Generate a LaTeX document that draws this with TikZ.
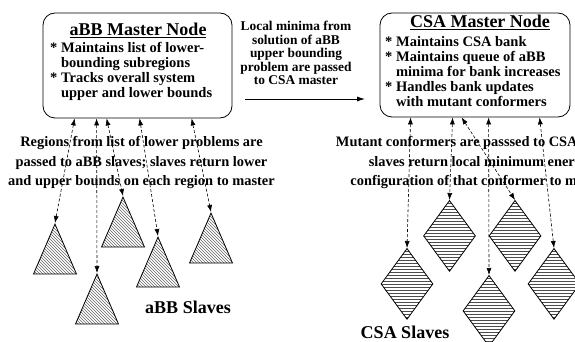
\documentclass[tikz,border=0pt]{standalone}
\usepackage{fontspec}
\setmainfont{Liberation Serif}
\usetikzlibrary{shapes.geometric, arrows.meta, positioning, patterns}

\begin{document}
\begin{tikzpicture}[
    x=1pt, y=-1pt,
    masterbox/.style={draw, thick, rounded corners=12pt, inner sep=0pt},
    boxtitle/.style={font=\fontsize{18}{18}\selectfont\bfseries, inner sep=0pt},
    boxtext/.style={font=\fontsize{14.5}{15}\selectfont\bfseries, align=left, inner sep=0pt, anchor=north west},
    note/.style={font=\fontsize{14.4}{19.5}\selectfont\bfseries, align=center, inner sep=0pt},
    abbslave/.style={isosceles triangle, isosceles triangle stretches, shape border rotate=90, minimum width=43pt, minimum height=50pt, inner sep=0pt, draw, thick, pattern=north west lines, pattern color=black!60, anchor=apex},
    csaslave/.style={diamond, minimum width=52pt, minimum height=71pt, inner sep=0pt, draw, thick, pattern=horizontal lines, pattern color=black!70, anchor=north},
    link/.style={{Latex[length=7pt,width=5pt]}-{Latex[length=7pt,width=5pt]}, dash pattern=on 3pt off 2pt, semithick},
    pass/.style={-{Latex[length=8pt,width=5pt]}, thick}
  ]

  \path[use as bounding box, clip] (0,0) rectangle (575,342);

  % Master nodes
  \node[masterbox, minimum width=189pt, minimum height=105pt] (abb) at (137.5,65.5) {};
  \node[boxtitle] (abbtitle) at (138,30) {\underline{aBB Master Node}};
  \node[boxtext] (abbtext) at (50,42) {* Maintains list of lower-\\\phantom{* }bounding subregions\\* Tracks overall system\\\phantom{* }upper and lower bounds};

  \node[masterbox, minimum width=190pt, minimum height=104pt] (csa) at (475,65) {};
  \node[boxtitle] (csatitle) at (480,22) {\underline{CSA Master Node}};
  \node[boxtext] (csatext) at (385,36) {* Maintains CSA bank\\* Maintains queue of aBB\\\phantom{* }minima for bank increases\\* Handles bank updates\\\phantom{* }with mutant conformers};

  % Master to master
  \node[font=\fontsize{13.4}{13.4}\selectfont\bfseries, align=center, inner sep=0pt] (minima) at (296,53) {Local minima from\\solution of aBB\\upper bounding\\problem are passed\\to CSA master};
  \coordinate (passfrom) at (245,99);
  \coordinate (passto) at (365,99);
  \draw[pass] (passfrom) -- (passto);

  % Slaves
  \node[abbslave] (t1) at (55,223) {};
  \node[abbslave] (t2) at (97,273) {};
  \node[abbslave] (t3) at (123,196) {};
  \node[abbslave] (t4) at (158,236) {};
  \node[abbslave] (t5) at (211,212) {};
  \node[boxtitle] (abbslaves) at (188,307) {aBB Slaves};

  \node[csaslave] (d1) at (407,248) {};
  \node[csaslave] (d2) at (449.5,200) {};
  \node[csaslave] (d3) at (515,200) {};
  \node[csaslave] (d4) at (489,275) {};
  \node[csaslave] (d5) at (554,248) {};
  \node[boxtitle] (csaslaves) at (405,332) {CSA Slaves};

  % Master-slave links
  \foreach \dx/\tri in {32/t1, 54/t2, 64/t3, 97/t4, 149/t5}
    \draw[link] ([xshift=\dx pt]abb.south west) -- (\tri.apex);
  \foreach \dx/\dia in {31/d1, 73/d2, 82/d3, 109/d4, 160/d5}
    \draw[link] ([xshift=\dx pt]csa.south west) -- (\dia.north);

  \node[note] (abbnote) at (141.5,163) {Regions from list of lower problems are\\passed to aBB slaves; slaves return lower\\and upper bounds on each region to master};
  \node[note] (csanote) at (479,163) {Mutant conformers are passsed to CSA slaves;\\slaves return local minimum energy\\configuration of that conformer to master};

\end{tikzpicture}
\end{document}
